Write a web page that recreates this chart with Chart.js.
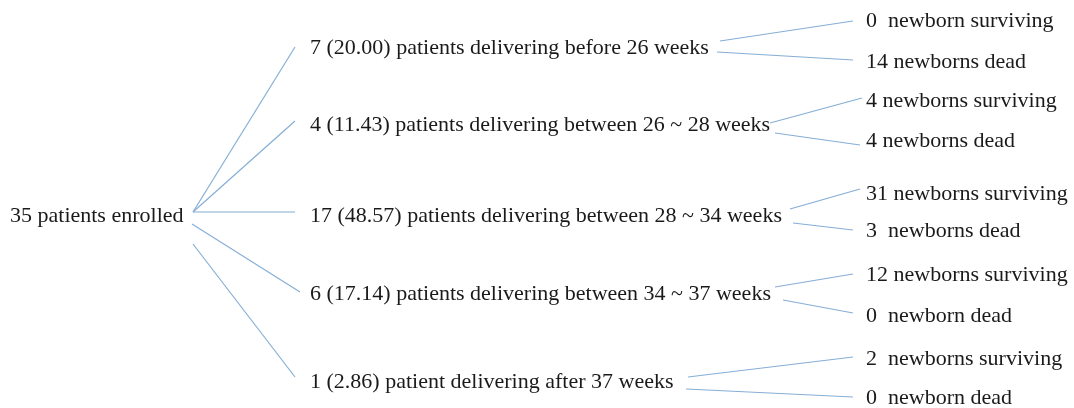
<!DOCTYPE html>
<html>
<head>
<meta charset="utf-8">
<script src="https://cdn.jsdelivr.net/npm/chart.js@4.4.1/dist/chart.umd.min.js"></script>
<style>
  html, body { margin: 0; padding: 0; background: #fff; }
  #wrap { width: 1074px; height: 408px; position: relative; }
</style>
</head>
<body>
<div id="wrap"><canvas id="tree"></canvas></div>
<script>
// Tree content
const rootLabel = '35 patients enrolled';
const groupLabels = [
  '7 (20.00) patients delivering before 26 weeks',
  '4 (11.43) patients delivering between 26 ~ 28 weeks',
  '17 (48.57) patients delivering between 28 ~ 34 weeks',
  '6 (17.14) patients delivering between 34 ~ 37 weeks',
  '1 (2.86) patient delivering after 37 weeks'
];
const survivingLabels = [
  '0  newborn surviving',
  '4 newborns surviving',
  '31 newborns surviving',
  '12 newborns surviving',
  '2  newborns surviving'
];
const deadLabels = [
  '14 newborns dead',
  '4 newborns dead',
  '3  newborns dead',
  '0  newborn dead',
  '0  newborn dead'
];

// Layout (in pixel-like units of the 1074 x 408 frame)
const rootPos = { x: 10, y: 216 };
const groupX = 310;
const groupY = [48, 125, 216, 294, 382];
const leafX = 866;
const survY = [21, 101, 194, 275, 359];
const deadY = [62, 141, 231, 316, 398];

// connector segments: [x1, y1, x2, y2]
const rootLinks = [
  [193, 212, 295, 47],
  [193, 212, 295, 121],
  [193, 212, 295, 212],
  [192, 224, 300, 292],
  [193, 244, 295, 377]
];
const leafLinks = [
  [720, 41, 853, 21], [717, 52, 853, 60],
  [770, 123, 862, 98], [775, 133, 860, 145],
  [790, 209, 860, 189], [793, 223, 853, 230],
  [775, 287, 853, 274], [783, 300, 853, 313],
  [688, 377, 853, 357], [686, 389, 853, 397]
];

const lineColor = '#86aed6';

const datasets = rootLinks.concat(leafLinks).map(s => ({
  data: [{ x: s[0], y: s[1] }, { x: s[2], y: s[3] }],
  showLine: true,
  borderColor: lineColor,
  borderWidth: 1.2,
  pointRadius: 0,
  pointHoverRadius: 0,
  fill: false
}));

const labelPlugin = {
  id: 'treeLabels',
  afterDatasetsDraw(chart) {
    const ctx = chart.ctx;
    const xs = chart.scales.x;
    const ys = chart.scales.y;
    ctx.save();
    ctx.font = '22px "Liberation Serif", "Times New Roman", serif';
    ctx.fillStyle = '#1a1a1a';
    ctx.textAlign = 'left';
    ctx.textBaseline = 'middle';
    const put = (txt, x, y) => ctx.fillText(txt, xs.getPixelForValue(x), ys.getPixelForValue(y));
    put(rootLabel, rootPos.x, rootPos.y);
    groupLabels.forEach((t, i) => put(t, groupX, groupY[i]));
    survivingLabels.forEach((t, i) => put(t, leafX, survY[i]));
    deadLabels.forEach((t, i) => put(t, leafX, deadY[i]));
    ctx.restore();
  }
};

new Chart(document.getElementById('tree'), {
  type: 'scatter',
  data: { datasets },
  options: {
    responsive: true,
    maintainAspectRatio: false,
    animation: false,
    layout: { padding: 0 },
    plugins: { legend: { display: false }, tooltip: { enabled: false } },
    scales: {
      x: { type: 'linear', min: 0, max: 1074, display: false },
      y: { type: 'linear', min: 0, max: 408, reverse: true, display: false }
    }
  },
  plugins: [labelPlugin]
});
</script>
</body>
</html>
